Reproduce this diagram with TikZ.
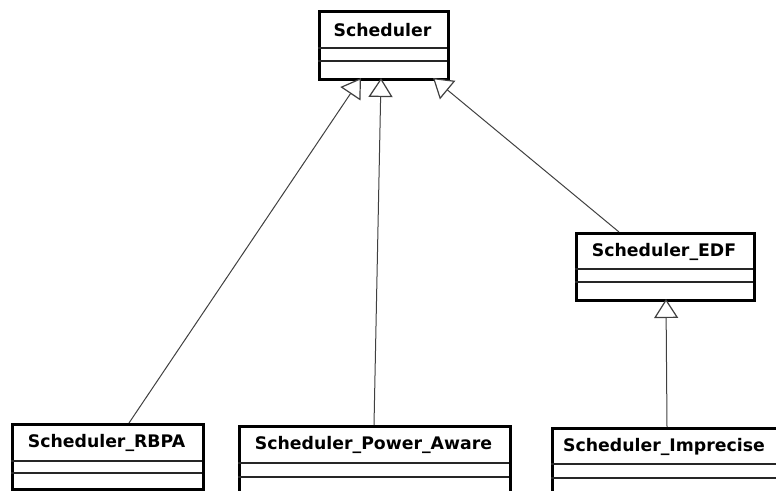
\documentclass[tikz,border=0pt]{standalone}
\usepackage{fontspec}
\setmainfont{DejaVu Sans}
\usetikzlibrary{arrows.meta,calc}
\begin{document}
\begin{tikzpicture}[x=1pt,y=-1pt,
  classbox/.style={draw=black,line width=2.6pt,fill=white,inner sep=0pt,anchor=north west},
  divider/.style={draw=black!85,line width=1.5pt},
  cname/.style={font=\fontsize{17.3}{20}\selectfont\bfseries,inner sep=0pt},
  inherit/.style={draw=black!75,line width=1pt,
    -{Triangle[open,length=19pt,width=24pt,line width=1.2pt,fill=white]}}]
\useasboundingbox (0,0) rectangle (776,490);
\clip (0,0) rectangle (776,490);

% class boxes (name compartment, attributes, operations)
\node[classbox,minimum width=129pt,minimum height=68pt] (sch) at (318,10) {};
\draw[divider] (318,48) -- (447,48) (318,61) -- (447,61);
\node[cname] (schname) at (382.5,30) {Scheduler};

\node[classbox,minimum width=178pt,minimum height=67pt] (edf) at (575,232) {};
\draw[divider] (575,269) -- (753,269) (575,282) -- (753,282);
\node[cname] (edfname) at (664,252) {Scheduler\_EDF};

\node[classbox,minimum width=191pt,minimum height=65pt] (rbpa) at (11,423) {};
\draw[divider] (11,461) -- (202,461) (11,473) -- (202,473);
\node[cname] (rbpaname) at (106.5,443) {Scheduler\_RBPA};

\node[classbox,minimum width=271pt,minimum height=80pt] (pa) at (238,425) {};
\draw[divider] (238,463) -- (509,463) (238,477) -- (509,477);
\node[cname] (paname) at (373.5,445) {Scheduler\_Power\_Aware};

\node[classbox,minimum width=240pt,minimum height=80pt] (imp) at (551,427) {};
\draw[divider] (551,464) -- (791,464) (551,478) -- (791,478);
\node[cname] (impname) at (664,446.5) {Scheduler\_Imprecise};

% attachment points on the box edges
\coordinate (sch-l) at (361,78);
\coordinate (sch-m) at (381,78);
\coordinate (sch-r) at (433,78);
\coordinate (edf-b) at (666,299);
\coordinate (edf-t) at (619,232);
\coordinate (rbpa-t) at (129,423);
\coordinate (pa-t) at (374,425);
\coordinate (imp-t) at (667,427);

% generalisation arrows
\draw[inherit] (rbpa-t) -- (sch-l);
\draw[inherit] (pa-t) -- (sch-m);
\draw[inherit] (edf-t) -- (sch-r);
\draw[inherit] (imp-t) -- (edf-b);
\end{tikzpicture}
\end{document}
